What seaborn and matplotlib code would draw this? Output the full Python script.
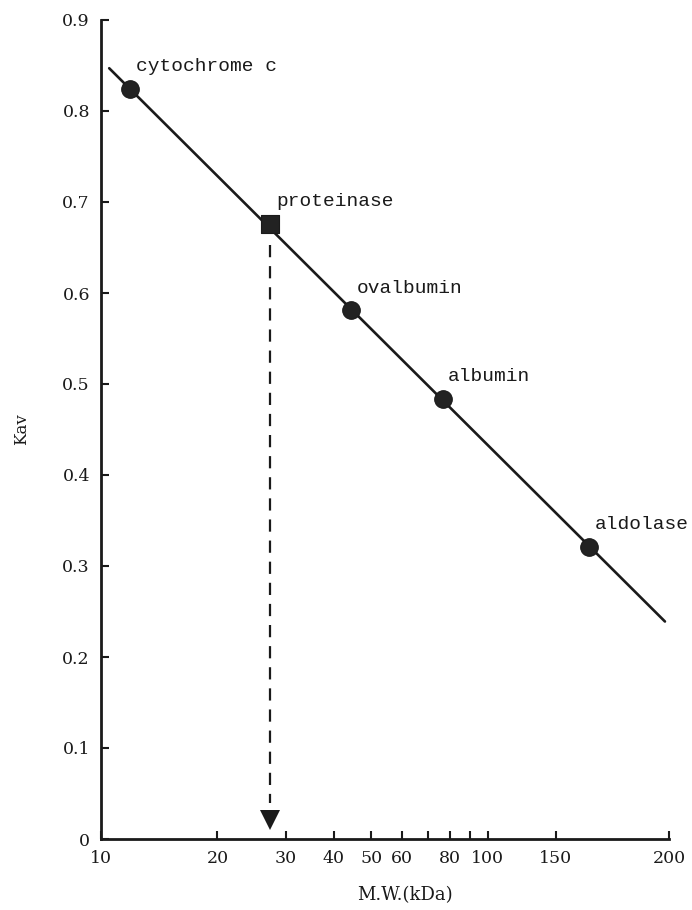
import matplotlib
matplotlib.use("Agg")
import matplotlib.pyplot as plt
import seaborn as sns
import pandas as pd

# ---- data ----
proteins = ["cytochrome c", "ovalbumin", "albumin", "aldolase"]
mw_kda = [11.9, 44.3, 76.4, 183.0]
kav = [0.824, 0.581, 0.4835, 0.321]

unknown_name = "proteinase"
unknown_mw = [27.4]
unknown_kav = [0.676]

fit_mw = [10.5, 287.0]
fit_kav = [0.847, 0.239]

y_ticks = [0, 0.1, 0.2, 0.3, 0.4, 0.5, 0.6, 0.7, 0.8, 0.9]
y_tick_labels = ["0", "0.1", "0.2", "0.3", "0.4", "0.5", "0.6", "0.7", "0.8", "0.9"]
# the reference's rightmost tick (labelled "200") sits where the log scale gives ~294
x_ticks = [10, 20, 30, 40, 50, 60, 70, 80, 90, 100, 150, 294]
x_tick_labels = ["10", "20", "30", "40", "50", "60", "", "80", "", "100", "150", "200"]

sns.set_theme(style="ticks")
plt.rcParams["font.family"] = ["DejaVu Serif", "DejaVu Sans"]

fig = plt.figure(figsize=(6.92, 9.10), dpi=100)
ax = fig.add_axes([101 / 692, (910 - 839) / 910, 568 / 692, 819 / 910])
ax.set_facecolor("white")
fig.patch.set_facecolor("white")

ink = "#1a1a1a"

# fitted line
sns.lineplot(x=fit_mw, y=fit_kav, ax=ax, color=ink, linewidth=1.9, zorder=2)

# standards
df = pd.DataFrame({"mw": mw_kda, "kav": kav, "name": proteins})
sns.scatterplot(data=df, x="mw", y="kav", ax=ax, marker="o", s=160,
                color="#222222", edgecolor=ink, linewidth=0.8, zorder=3)

# unknown
sns.scatterplot(x=unknown_mw, y=unknown_kav, ax=ax, marker="s", s=165,
                color="#222222", edgecolor=ink, linewidth=0.8, zorder=3)

# dashed drop line with arrowhead
ax.plot([unknown_mw[0], unknown_mw[0]], [0.653, 0.04], color=ink,
        linewidth=1.6, dashes=(5.5, 4), zorder=2)
ax.plot([unknown_mw[0]], [0.021], marker="v", markersize=15, color=ink,
        markeredgewidth=0, zorder=3)

# labels
for name, x, y in zip(proteins + [unknown_name], mw_kda + unknown_mw, kav + unknown_kav):
    ax.annotate(name, xy=(x, y), xytext=(4, 16), textcoords="offset points",
                ha="left", va="center", fontsize=14, family="Liberation Mono",
                color=ink)

ax.set_xscale("log")
ax.set_xlim(10, 294)
ax.set_ylim(0, 0.9)
ax.set_xticks(x_ticks)
ax.set_xticklabels(x_tick_labels)
ax.xaxis.set_minor_locator(matplotlib.ticker.NullLocator())
ax.set_yticks(y_ticks)
ax.set_yticklabels(y_tick_labels)

ax.tick_params(axis="both", direction="in", length=6, width=1.5, colors=ink,
               labelsize=12.5, pad=8)
for s in ["top", "right"]:
    ax.spines[s].set_visible(False)
for s in ["left", "bottom"]:
    ax.spines[s].set_linewidth(2.0)
    ax.spines[s].set_color(ink)

ax.set_xlabel("M.W.(kDa)", fontsize=13, color=ink)
ax.set_ylabel("Kav", fontsize=12, color=ink)
ax.xaxis.set_label_coords(0.535, -0.057)
ax.yaxis.set_label_coords(-0.125, 0.5)

fig.savefig("out.png", dpi=100, facecolor="white")
